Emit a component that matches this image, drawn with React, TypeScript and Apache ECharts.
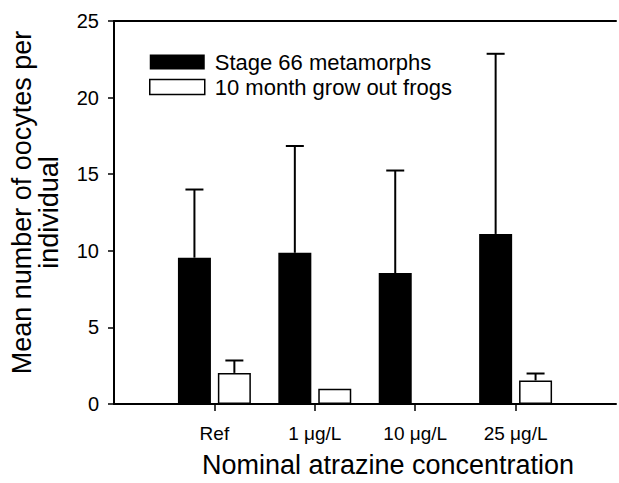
import React, { useEffect, useRef } from "react";
import * as echarts from "echarts";

const categories = ["Ref", "1 μg/L", "10 μg/L", "25 μg/L"];
const stage66Means = [9.55, 9.87, 8.55, 11.1];
const stage66Upper = [14.0, 16.84, 15.24, 22.86];
const growOutMeans = [2.03, 1.0, 0, 1.54];
const growOutUpper = [2.84, null, null, 1.99];
const yTicks = { min: 0, max: 25, interval: 5 };

const SERIES_A = "Stage 66 metamorphs";
const SERIES_B = "10 month grow out frogs";
const FONT = "'Liberation Sans', Arial, Helvetica, sans-serif";

export default function App() {
  const ref = useRef<HTMLDivElement>(null);
  useEffect(() => {
    if (!ref.current) return;
    const chart = echarts.init(ref.current, undefined, { renderer: "svg" });
    // padded categories so the axis starts/ends half a band outside
    const cats = ["", ...categories, ""];
    const pad = (arr: (number | null)[]) => ["-", ...arr.map((v) => (v === null ? "-" : v)), "-"];
    const errData = (means: number[], uppers: (number | null)[]) =>
      means
        .map((m, i) => (uppers[i] === null ? null : [i + 1, m, uppers[i] as number]))
        .filter((d) => d !== null);

    const barW = 33;
    const gapPct = 0.21;
    const half = (barW * 2 + barW * gapPct) / 2;
    const offA = -half + barW / 2;
    const offB = half - barW / 2;

    const errRender = (offset: number) => (params: any, api: any) => {
      const x = api.value(0);
      const base = api.value(1);
      const top = api.value(2);
      const p0 = api.coord([x, base]);
      const p1 = api.coord([x, top]);
      const cx = p0[0] + offset;
      return {
        type: "group",
        children: [
          { type: "line", shape: { x1: cx, y1: p0[1], x2: cx, y2: p1[1] }, style: { stroke: "#000", lineWidth: 2 } },
          { type: "line", shape: { x1: cx - 9, y1: p1[1], x2: cx + 9, y2: p1[1] }, style: { stroke: "#000", lineWidth: 2 } },
        ],
      };
    };

    chart.setOption({
      animation: false,
      backgroundColor: "#fff",
      textStyle: { fontFamily: FONT, color: "#000" },
      grid: { left: 114, right: 0, top: 21, bottom: 73, containLabel: false },
      legend: {
        left: 144,
        top: 46,
        orient: "vertical",
        itemWidth: 55,
        itemHeight: 15,
        itemGap: 3,
        data: [
          { name: SERIES_A, icon: "rect", itemStyle: { color: "#000", borderColor: "#000", borderWidth: 0 } },
          { name: SERIES_B, icon: "rect", itemStyle: { color: "#fff", borderColor: "#000", borderWidth: 1.5 } },
        ],
        textStyle: { fontSize: 22, color: "#000", fontFamily: FONT, padding: [0, 0, 0, 5], lineHeight: 22 },
        selectedMode: false,
      },
      xAxis: [
        {
          type: "category",
          data: cats,
          boundaryGap: false,
          axisLine: { show: true, lineStyle: { color: "#000", width: 2 } },
          axisTick: {
            show: true,
            inside: false,
            length: 7,
            lineStyle: { color: "#000", width: 1.5 },
            interval: (idx: number) => idx > 0 && idx < cats.length - 1,
          },
          axisLabel: { fontSize: 19, color: "#000", margin: 20, fontFamily: FONT, interval: 0 },
          splitLine: { show: false },
          name: "Nominal atrazine concentration",
          nameLocation: "middle",
          nameGap: 47,
          nameTextStyle: { fontSize: 27, color: "#000", fontFamily: FONT, padding: [0, 0, 0, 46] },
        },
        {
          type: "category",
          position: "top",
          data: cats,
          boundaryGap: false,
          axisLine: { show: true, lineStyle: { color: "#000", width: 2 } },
          axisTick: { show: false },
          axisLabel: { show: false },
        },
      ],
      yAxis: {
        type: "value",
        min: yTicks.min,
        max: yTicks.max,
        interval: yTicks.interval,
        axisLine: { show: true, lineStyle: { color: "#000", width: 2 } },
        axisTick: { show: true, length: 6, lineStyle: { color: "#000", width: 1.5 } },
        axisLabel: { fontSize: 20, color: "#000", margin: 15, fontFamily: FONT },
        splitLine: { show: false },
        name: "{a|Mean number of oocytes per}\n{b|individual}",
        nameLocation: "middle",
        nameRotate: 90,
        nameGap: 52,
        nameTextStyle: {
          fontSize: 27,
          color: "#000",
          fontFamily: FONT,
          lineHeight: 27,
          rich: {
            a: { fontSize: 27, lineHeight: 27, fontFamily: FONT, color: "#000", padding: [0, 0, 0, 20] },
            b: { fontSize: 27, lineHeight: 27, fontFamily: FONT, color: "#000" },
          },
        },
      },
      series: [
        {
          name: SERIES_A,
          type: "bar",
          data: pad(stage66Means),
          barWidth: barW,
          barGap: `${gapPct * 100}%`,
          itemStyle: { color: "#000", borderColor: "#000", borderWidth: 0 },
          z: 2,
        },
        {
          name: SERIES_B,
          type: "bar",
          data: pad(growOutMeans),
          barWidth: barW,
          itemStyle: { color: "#fff", borderColor: "#000", borderWidth: 1.5 },
          z: 2,
        },
        {
          name: "errA",
          type: "custom",
          renderItem: errRender(offA),
          data: errData(stage66Means, stage66Upper),
          encode: { x: 0, y: [1, 2] },
          z: 3,
        },
        {
          name: "errB",
          type: "custom",
          renderItem: errRender(offB),
          data: errData(growOutMeans, growOutUpper),
          encode: { x: 0, y: [1, 2] },
          z: 3,
        },
      ],
    });
    return () => chart.dispose();
  }, []);
  return (
    <div
      ref={ref}
      style={{ position: "fixed", left: 0, top: 0, width: 619, height: 483, background: "#fff" }}
    />
  );
}
